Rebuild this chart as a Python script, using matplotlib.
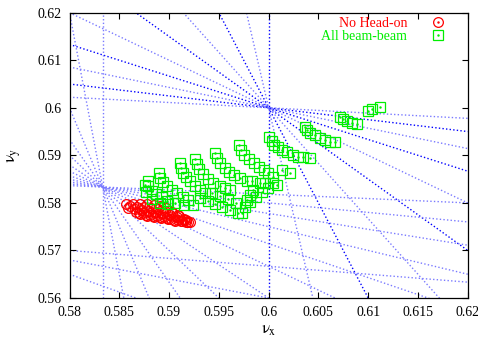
import matplotlib
matplotlib.use("Agg")
import matplotlib.pyplot as plt
import numpy as np

plt.rcParams['font.family'] = ['Liberation Serif', 'DejaVu Serif']
plt.rcParams['mathtext.fontset'] = 'stix'

# resonance lines m*nux + n*nuy = p  (order = m + n)
res_m = [5, 4, 3, 2, 1, 3, 2, 1, 9, 7, 5, 3, 1, 12, 11, 10, 9, 8, 7, 6, 5, 4, 3, 2, 1]
res_n = [0, 1, 2, 3, 4, 4, 5, 6, 1, 3, 5, 7, 9, 0, 1, 2, 3, 4, 5, 6, 7, 8, 9, 10, 11]
res_p = [3, 3, 3, 3, 3, 4, 4, 4, 6, 6, 6, 6, 6, 7, 7, 7, 7, 7, 7, 7, 7, 7, 7, 7, 7]

# tune footprint, no head-on collisions
nohead_x = [0.58568, 0.58638, 0.58709, 0.58779, 0.58849, 0.58910, 0.58970, 0.59030, 0.59090, 0.59151, 0.59191,
            0.58588, 0.58658, 0.58729, 0.58799, 0.58869, 0.58940, 0.59010, 0.59080, 0.59151,
            0.58668, 0.58739, 0.58809, 0.58879, 0.58950, 0.59020, 0.59090, 0.59171,
            0.58709, 0.58779, 0.58849, 0.58920, 0.58990, 0.59060, 0.59131,
            0.58608, 0.58678, 0.58749, 0.58819, 0.58889, 0.58960, 0.59030, 0.59101, 0.59171,
            0.58698, 0.58769, 0.58839, 0.58910, 0.58980, 0.59050, 0.59121, 0.59211]
nohead_y = [0.57971, 0.57971, 0.57981, 0.57981, 0.57960, 0.57939, 0.57887, 0.57813, 0.57740, 0.57666, 0.57603,
            0.57897, 0.57876, 0.57855, 0.57834, 0.57813, 0.57792, 0.57750, 0.57708, 0.57635,
            0.57813, 0.57782, 0.57750, 0.57729, 0.57708, 0.57666, 0.57635, 0.57603,
            0.57771, 0.57729, 0.57698, 0.57687, 0.57656, 0.57624, 0.57614,
            0.57939, 0.57918, 0.57908, 0.57887, 0.57866, 0.57834, 0.57782, 0.57719, 0.57634,
            0.57792, 0.57750, 0.57729, 0.57708, 0.57687, 0.57645, 0.57624, 0.57592]

# tune footprint, all beam-beam interactions
allbb_x = [0.60005, 0.60032, 0.60055, 0.60092, 0.60139, 0.60183, 0.60249, 0.60299, 0.60350, 0.60417,
           0.60367, 0.60384, 0.60417, 0.60467, 0.60518, 0.60568, 0.60618, 0.60668,
           0.60719, 0.60752, 0.60786, 0.60836, 0.60886,
           0.61003, 0.61037, 0.61114,
           0.59704, 0.59721, 0.59754, 0.59804, 0.59854, 0.59905, 0.59955, 0.59998, 0.60048,
           0.59462, 0.59479, 0.59513, 0.59563, 0.59603, 0.59653, 0.59714, 0.59781, 0.59831,
           0.59261, 0.59284, 0.59305, 0.59345, 0.59395, 0.59445, 0.59513, 0.59563, 0.59613,
           0.59111, 0.59118, 0.59138, 0.59171, 0.59211, 0.59261, 0.59312, 0.59362,
           0.58899, 0.58910, 0.58943, 0.58977, 0.59027, 0.59077, 0.59138, 0.59194,
           0.58792, 0.58792, 0.58826, 0.58869, 0.58927, 0.58977,
           0.59847, 0.59814, 0.59781, 0.59764, 0.59731, 0.59915, 0.60048, 0.60082, 0.60133, 0.60216,
           0.59060, 0.59151, 0.59241, 0.59312, 0.59392, 0.59462, 0.59533, 0.59613, 0.59693,
           0.59814, 0.59874, 0.59935, 0.59995, 0.59432, 0.59513, 0.59593, 0.59673, 0.59965,
           0.58759, 0.58769, 0.58829, 0.58910, 0.58990]
allbb_y = [0.59395, 0.59305, 0.59221, 0.59172, 0.59116, 0.59067, 0.59011, 0.58975, 0.58975, 0.58941,
           0.59605, 0.59536, 0.59466, 0.59431, 0.59361, 0.59326, 0.59290, 0.59290,
           0.59803, 0.59760, 0.59731, 0.59689, 0.59662,
           0.59941, 0.59971, 0.60025,
           0.59221, 0.59116, 0.59011, 0.58920, 0.58849, 0.58765, 0.58695, 0.58626, 0.58555,
           0.59046, 0.58954, 0.58849, 0.58744, 0.58660, 0.58590, 0.58521, 0.58470, 0.58450,
           0.58920, 0.58815, 0.58710, 0.58605, 0.58506, 0.58416, 0.58345, 0.58311, 0.58275,
           0.58836, 0.58731, 0.58639, 0.58542, 0.58450, 0.58359, 0.58275, 0.58206,
           0.58626, 0.58521, 0.58429, 0.58345, 0.58275, 0.58206, 0.58134, 0.58065,
           0.58450, 0.58345, 0.58260, 0.58191, 0.58122, 0.58050,
           0.58275, 0.58170, 0.58065, 0.57924, 0.57786, 0.58416, 0.58416, 0.58380, 0.58695, 0.58626,
           0.58002, 0.57960, 0.57960, 0.58107, 0.58044, 0.57981, 0.57918, 0.57855, 0.57792,
           0.58023, 0.58128, 0.58233, 0.58317, 0.58212, 0.58149, 0.58086, 0.58002, 0.58422,
           0.58380, 0.58233, 0.58086, 0.58002, 0.57980]

xmin, xmax = 0.58, 0.62
ymin, ymax = 0.56, 0.62

fig = plt.figure(figsize=(4.78, 3.41), dpi=100)
ax = fig.add_axes([0.1454, 0.1261, 0.8331, 0.8367])

for m, n, p in zip(res_m, res_n, res_p):
    col = '#0000ff' if m + n <= 5 else '#7a7aff'
    if n == 0:
        xs = [p / m, p / m]
        ys = [ymin, ymax]
    else:
        xs = np.array([xmin, xmax])
        ys = (p - m * xs) / n
    ax.plot(xs, ys, color=col, lw=1.0, ls=(0, (1, 1.6)), zorder=1)

red = '#ff0000'
green = '#00ee00'
ax.plot(nohead_x, nohead_y, ls='none', marker='o', ms=7, mfc='none', mec=red, mew=0.9, zorder=2)
ax.plot(nohead_x, nohead_y, ls='none', marker='.', ms=1.5, color=red, zorder=2)
ax.plot(allbb_x, allbb_y, ls='none', marker='s', ms=6.5, mfc='none', mec=green, mew=0.9, zorder=3)
ax.plot(allbb_x, allbb_y, ls='none', marker='.', ms=1.5, color=green, zorder=3)

h1 = (plt.Line2D([], [], ls='none', marker='o', ms=7, mfc='none', mec=red, mew=0.9),
      plt.Line2D([], [], ls='none', marker='.', ms=1.5, color=red))
h2 = (plt.Line2D([], [], ls='none', marker='s', ms=6.5, mfc='none', mec=green, mew=0.9),
      plt.Line2D([], [], ls='none', marker='.', ms=1.5, color=green))
leg = ax.legend([h1, h2], ['No Head-on', 'All beam-beam'], loc='upper right', frameon=False,
                markerfirst=False, fontsize=10, handlelength=1.2, handletextpad=1.6,
                labelspacing=0.0, borderaxespad=0.0, bbox_to_anchor=(0.96, 1.004))
leg.get_texts()[0].set_color(red)
leg.get_texts()[1].set_color(green)

ax.set_xlim(xmin, xmax)
ax.set_ylim(ymin, ymax)
ax.set_xticks([0.58, 0.585, 0.59, 0.595, 0.6, 0.605, 0.61, 0.615, 0.62])
ax.set_xticklabels(['0.58', '0.585', '0.59', '0.595', '0.6', '0.605', '0.61', '0.615', '0.62'])
ax.set_yticks([0.56, 0.57, 0.58, 0.59, 0.6, 0.61, 0.62])
ax.set_yticklabels(['0.56', '0.57', '0.58', '0.59', '0.6', '0.61', '0.62'])
ax.tick_params(direction='in', length=4, width=0.8, top=True, right=True, labelsize=10, pad=6)
for s in ax.spines.values():
    s.set_linewidth(0.9)
ax.set_xlabel(r'$\mathrm{\nu_x}$', fontsize=12, labelpad=2)
ax.set_ylabel(r'$\mathrm{\nu_y}$', fontsize=12, labelpad=10)

fig.savefig('out.png', dpi=100)
